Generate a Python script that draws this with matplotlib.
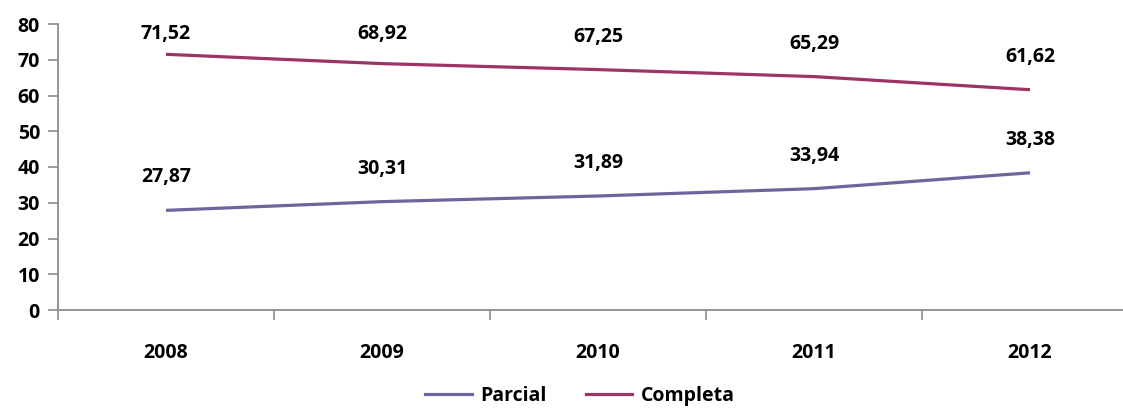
import matplotlib
matplotlib.use("Agg")
import matplotlib.pyplot as plt
from matplotlib.lines import Line2D

years = ["2008", "2009", "2010", "2011", "2012"]
parcial = [27.87, 30.31, 31.89, 33.94, 38.38]
completa = [71.52, 68.92, 67.25, 65.29, 61.62]
yticks = [0, 10, 20, 30, 40, 50, 60, 70, 80]

c_parcial = "#6a679e"
c_completa = "#9c3466"
font = "Open Sans"
fs = 14

W, H = 1123, 409
fig = plt.figure(figsize=(W / 100, H / 100), dpi=100)
ax = fig.add_axes([58 / W, (H - 310) / H, 1080 / W, 286 / H])

x = list(range(len(years)))
ax.plot(x, parcial, color=c_parcial, lw=2.3, solid_capstyle="butt", label="Parcial")
ax.plot(x, completa, color=c_completa, lw=2.3, solid_capstyle="butt", label="Completa")

ax.set_xlim(-0.5, 4.5)
ax.set_ylim(0, 80)


def label(xi, v):
    # place label ~33 px above the point, but keep it inside the plot area
    px, py = ax.transData.transform((xi, v))
    top = ax.transAxes.transform((0, 1))[1]
    ly = min(py + 33, top - 10)
    off_pt = (ly - py) * 72 / fig.dpi
    ax.annotate(f"{v:.2f}".replace(".", ","), (xi, v), xytext=(0, off_pt), textcoords="offset points",
                ha="center", va="center", fontsize=fs, fontweight="bold", family=font)


for xi, v in zip(x, parcial):
    label(xi, v)
for xi, v in zip(x, completa):
    label(xi, v)

ax.set_yticks(yticks)
ax.set_yticklabels([str(t) for t in yticks], fontsize=fs, fontweight="bold", family=font)
ax.set_xticks(x)
ax.set_xticklabels(years, fontsize=fs, fontweight="bold", family=font)
ax.set_xticks([i - 0.5 for i in range(len(years) + 1)], minor=True)
ax.tick_params(axis="x", which="major", length=0, pad=24)
ax.tick_params(axis="x", which="minor", length=7, width=1.2, color="#8c8c8c", direction="out")
ax.tick_params(axis="y", length=7, width=1.2, color="#8c8c8c", pad=6)

for s in ["top", "right"]:
    ax.spines[s].set_visible(False)
for s in ["left", "bottom"]:
    ax.spines[s].set_color("#8c8c8c")
    ax.spines[s].set_linewidth(1.3)

handles = [Line2D([], [], color=c_parcial, lw=2.3), Line2D([], [], color=c_completa, lw=2.3)]
fig.legend(handles, ["Parcial", "Completa"], loc="center", bbox_to_anchor=(580 / W, (H - 396) / H),
           ncol=2, frameon=False, prop={"family": font, "weight": "bold", "size": fs},
           handlelength=2.4, handletextpad=0.45, columnspacing=2.0)

fig.savefig("out.png", dpi=100)
